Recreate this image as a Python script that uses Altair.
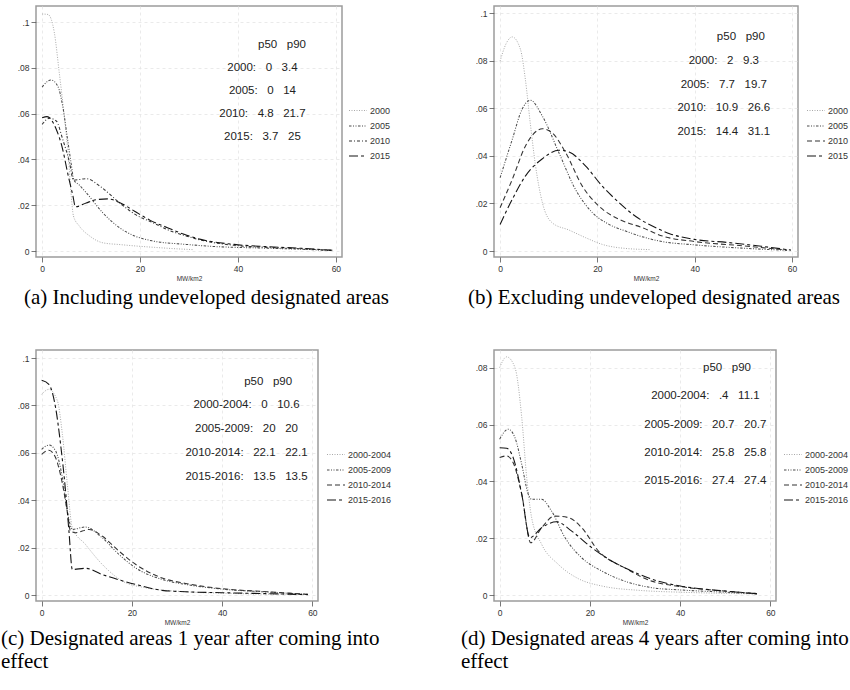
import altair as alt
import pandas as pd

NB = "\u00a0\u00a0\u00a0"

# ---------------- Panel (a) ----------------
A_SERIES = ["2000", "2005", "2010", "2015"]
A_2000_X = [0, 1.2, 2.5, 3.5, 4.6, 5.4, 5.9, 6.4, 7.6, 9.7, 12.4, 16, 19.2, 23, 27.3, 31]
A_2000_Y = [0.1035, 0.1033, 0.0953, 0.0779, 0.0575, 0.040, 0.0255, 0.0153, 0.0109, 0.0066, 0.0036, 0.0028, 0.0022, 0.0016, 0.0010, 0.0006]
A_2005_X = [0, 1.8, 3.2, 4.2, 5.2, 5.9, 6.5, 7.5, 9.0, 12.4, 15.8, 19, 22.6, 29.4, 35, 45, 55, 59]
A_2005_Y = [0.0716, 0.0747, 0.0720, 0.0633, 0.0488, 0.0386, 0.0310, 0.0290, 0.0255, 0.0167, 0.0102, 0.0065, 0.0044, 0.0029, 0.0020, 0.0013, 0.0006, 0.0002]
A_2010_X = [0, 1.5, 2.9, 4.2, 5.6, 6.4, 7.5, 9.0, 12, 15.8, 19, 22.6, 26, 29.4, 32.4, 39.2, 46, 52.8, 59]
A_2010_Y = [0.0553, 0.0580, 0.0568, 0.0488, 0.0386, 0.0310, 0.0312, 0.0316, 0.0280, 0.0211, 0.0160, 0.0124, 0.0090, 0.0066, 0.0048, 0.0025, 0.0016, 0.0010, 0.0003]
A_2015_X = [0, 1.0, 2.9, 4.2, 5.2, 6.3, 6.8, 9, 11, 13.4, 16, 18.8, 22, 25.6, 29, 32.4, 39.2, 46, 52.8, 59.5]
A_2015_Y = [0.0582, 0.0587, 0.0531, 0.0444, 0.0342, 0.0240, 0.0193, 0.0210, 0.0224, 0.0228, 0.0210, 0.0175, 0.0135, 0.0102, 0.0073, 0.0051, 0.0029, 0.0019, 0.0012, 0.0003]
A_TEXT = ["p50" + NB + "p90", "2000:" + NB + "0" + NB + "3.4", "2005:" + NB + "0" + NB + "14",
          "2010:" + NB + "4.8" + NB + "21.7", "2015:" + NB + "3.7" + NB + "25"]
A_TEXT_X = [49.0, 45.0, 45.0, 45.0, 45.0]
A_TEXT_Y = [0.09, 0.08, 0.07, 0.06, 0.05]

# ---------------- Panel (b) ----------------
B_SERIES = ["2000", "2005", "2010", "2015"]
B_2000_X = [0, 1.2, 2.5, 4.2, 5.2, 6.2, 7.3, 8.7, 10.7, 14.2, 17.6, 21, 25.8, 31]
B_2000_Y = [0.0798, 0.0870, 0.0900, 0.0847, 0.0721, 0.0539, 0.0357, 0.0203, 0.0119, 0.0088, 0.0056, 0.0028, 0.0011, 0.0006]
B_2005_X = [0, 2.5, 4.5, 6.2, 8.7, 12.1, 15.5, 19, 22.4, 25.8, 32.7, 40, 50, 59]
B_2005_Y = [0.0308, 0.0469, 0.0595, 0.0634, 0.0567, 0.0413, 0.0259, 0.0161, 0.0112, 0.0084, 0.0042, 0.0026, 0.0012, 0.0003]
B_2010_X = [0, 2.5, 5.2, 8.7, 10.7, 13.5, 16.9, 20.3, 24.5, 29.3, 33.4, 40, 50, 59]
B_2010_Y = [0.0182, 0.0301, 0.0441, 0.0514, 0.0497, 0.0413, 0.0273, 0.0189, 0.0133, 0.0098, 0.0063, 0.0040, 0.0022, 0.0004]
B_2015_X = [0, 2.5, 5.2, 8.7, 12.1, 14.2, 17.6, 21, 24.5, 27.9, 31.3, 35, 40, 46.8, 53.7, 59.8]
B_2015_Y = [0.0112, 0.0217, 0.0315, 0.0388, 0.0424, 0.0416, 0.0357, 0.0273, 0.0203, 0.0145, 0.0105, 0.0072, 0.0049, 0.0036, 0.0020, 0.0004]
B_TEXT = ["p50" + NB + "p90", "2000:" + NB + "2" + NB + "9.3", "2005:" + NB + "7.7" + NB + "19.7",
          "2010:" + NB + "10.9" + NB + "26.6", "2015:" + NB + "14.4" + NB + "31.1"]
B_TEXT_X = [49.5, 46.0, 46.0, 46.0, 46.0]
B_TEXT_Y = [0.09, 0.08, 0.07, 0.06, 0.05]

# ---------------- Panel (c) ----------------
C_SERIES = ["2000-2004", "2005-2009", "2010-2014", "2015-2016"]
C_2000_X = [0, 1.6, 3.5, 4.6, 5.7, 6.8, 9.7, 13.4, 17.9, 23, 31.9, 40, 50, 59]
C_2000_Y = [0.0847, 0.0868, 0.0819, 0.0678, 0.0467, 0.0284, 0.0214, 0.0130, 0.0059, 0.0031, 0.0014, 0.0008, 0.0004, 0.0002]
C_2005_X = [0, 1.6, 3.1, 4.6, 5.7, 6.8, 9.7, 13.4, 17.1, 20.8, 26.7, 31.9, 40, 50, 59]
C_2005_Y = [0.0615, 0.0633, 0.0608, 0.0495, 0.0354, 0.0277, 0.0287, 0.0242, 0.0172, 0.0115, 0.0066, 0.0045, 0.0025, 0.0013, 0.0003]
C_2010_X = [0, 1.6, 3.1, 4.6, 5.7, 6.4, 7.5, 10.5, 13.4, 17.1, 20.8, 26.7, 31.9, 40, 50, 59]
C_2010_Y = [0.0594, 0.0611, 0.0579, 0.0470, 0.0350, 0.0270, 0.0263, 0.0277, 0.0249, 0.0186, 0.0130, 0.0072, 0.0049, 0.0027, 0.0014, 0.0003]
C_2015_X = [0, 1.6, 3.1, 4.2, 5.3, 6.05, 6.8, 9.7, 13.4, 20.8, 26.7, 31.9, 40, 50, 59]
C_2015_Y = [0.0906, 0.0889, 0.0790, 0.0636, 0.0439, 0.0270, 0.0108, 0.0113, 0.0087, 0.0045, 0.0020, 0.0014, 0.0010, 0.0006, 0.0002]
C_TEXT = ["p50" + NB + "p90", "2000-2004:" + NB + "0" + NB + "10.6", "2005-2009:" + NB + "20" + NB + "20",
          "2010-2014:" + NB + "22.1" + NB + "22.1", "2015-2016:" + NB + "13.5" + NB + "13.5"]
C_TEXT_X = [50.2, 45.4, 45.4, 45.4, 45.4]
C_TEXT_Y = [0.09, 0.08, 0.07, 0.06, 0.05]

# ---------------- Panel (d) ----------------
D_SERIES = ["2000-2004", "2005-2009", "2010-2014", "2015-2016"]
D_2000_X = [0, 1.55, 3.4, 4.9, 6.0, 7.1, 9.3, 13, 17.4, 22.6, 31.4, 40, 50, 57]
D_2000_Y = [0.0801, 0.0839, 0.0801, 0.0625, 0.0413, 0.0272, 0.0179, 0.0108, 0.0058, 0.0032, 0.0016, 0.0010, 0.0006, 0.0004]
D_2005_X = [0, 1.9, 3.4, 4.9, 6.35, 7.1, 9.3, 11.5, 14.5, 18.2, 22.6, 27.7, 33.7, 40, 50, 57]
D_2005_Y = [0.0549, 0.0584, 0.0554, 0.0460, 0.0355, 0.0337, 0.0337, 0.0296, 0.0202, 0.0131, 0.0085, 0.0049, 0.0026, 0.0018, 0.0010, 0.0004]
D_2010_X = [0, 1.55, 3.0, 4.9, 6.9, 9.3, 12.2, 15.2, 18.2, 21.9, 27.7, 33.7, 40, 50, 57]
D_2010_Y = [0.0484, 0.0490, 0.0466, 0.0355, 0.0184, 0.0237, 0.0278, 0.0273, 0.0237, 0.0155, 0.0096, 0.0049, 0.0030, 0.0014, 0.0005]
D_2015_X = [0, 1.55, 3.0, 4.9, 6.7, 9.3, 12.6, 15.9, 20.4, 24.8, 29.2, 35.1, 40, 50, 57]
D_2015_Y = [0.0519, 0.0517, 0.0484, 0.0355, 0.0202, 0.0237, 0.0258, 0.0226, 0.0167, 0.0120, 0.0085, 0.0049, 0.0032, 0.0014, 0.0005]
D_TEXT = ["p50" + NB + "p90", "2000-2004:" + NB + ".4" + NB + "11.1", "2005-2009:" + NB + "20.7" + NB + "20.7",
          "2010-2014:" + NB + "25.8" + NB + "25.8", "2015-2016:" + NB + "27.4" + NB + "27.4"]
D_TEXT_X = [50.4, 45.6, 45.6, 45.6, 45.6]
D_TEXT_Y = [0.08, 0.07, 0.06, 0.05, 0.04]

CAPTIONS = ["(a) Including undeveloped designated areas",
            "(b) Excluding undeveloped designated areas",
            ["(c) Designated areas 1 year after coming into", "effect"],
            ["(d) Designated areas 4 years after coming into", "effect"]]

LINE_COLORS = ["#a9a9a9", "#4a4a4a", "#333333", "#141414"]
LINE_WIDTHS = [1.0, 1.1, 1.1, 1.6]
DASHES_A = [[1, 1.5], [2.5, 1.5, 1, 1.5, 1, 1.5], [3, 2, 1, 2], [9, 3, 3, 3]]
DASHES_BCD = [[1, 1.5], [2.5, 1.5, 1, 1.5, 1, 1.5], [5, 3], [9, 3, 3, 3]]

Y_LABEL_EXPR = "datum.value == 0 ? '0' : replace(format(datum.value, '.2~f'), '0.', '.')"


def panel(series, xs, ys, dashes, ydom, yticks, width, height,
          tx, ty, tt, caption, legend_x, cap_dx, cap_offset):
    rows = []
    for s, xv, yv in zip(series, xs, ys):
        for i, (a, b) in enumerate(zip(xv, yv)):
            rows.append({"series": s, "x": a, "y": b, "i": i})
    df = pd.DataFrame(rows)
    ann = pd.DataFrame({"x": tx, "y": ty, "t": tt})

    xsc = alt.Scale(domain=[-1.25, 61.25], nice=False, zero=False)
    ysc = alt.Scale(domain=ydom, nice=False, zero=False)
    xax = alt.Axis(values=[0, 20, 40, 60], title="MW/km2", format="d")
    yax = alt.Axis(values=yticks, title=None, labelExpr=Y_LABEL_EXPR)

    leg = alt.Legend(title=None, orient="none", legendX=legend_x, legendY=95,
                     symbolType="stroke", symbolSize=324, rowPadding=-5,
                     labelFont="Liberation Sans", labelFontSize=9,
                     labelColor="#333333", labelOffset=2)

    lines = alt.Chart(df).mark_line(interpolate="monotone").encode(
        x=alt.X("x:Q", scale=xsc, axis=xax),
        y=alt.Y("y:Q", scale=ysc, axis=yax),
        order="i:Q",
        color=alt.Color("series:N", scale=alt.Scale(domain=series, range=LINE_COLORS), legend=leg),
        strokeDash=alt.StrokeDash("series:N", scale=alt.Scale(domain=series, range=dashes), legend=leg),
        strokeWidth=alt.StrokeWidth("series:N", scale=alt.Scale(domain=series, range=LINE_WIDTHS), legend=leg),
    )
    texts = alt.Chart(ann).mark_text(font="Liberation Sans", fontSize=11.5, color="#222222",
                                     align="center", baseline="middle").encode(
        x=alt.X("x:Q", scale=xsc), y=alt.Y("y:Q", scale=ysc), text="t:N")

    return alt.layer(lines, texts).properties(
        width=width, height=height,
        title=alt.TitleParams(text=caption, orient="bottom", anchor="start", frame="group",
                              dx=cap_dx, offset=cap_offset, font="Liberation Serif", fontSize=21,
                              fontWeight="normal", color="#000000", lineHeight=23),
    )


pa = panel(A_SERIES, [A_2000_X, A_2005_X, A_2010_X, A_2015_X], [A_2000_Y, A_2005_Y, A_2010_Y, A_2015_Y],
           DASHES_A, [-0.0026, 0.107], [0, 0.02, 0.04, 0.06, 0.08, 0.1], 306, 251,
           A_TEXT_X, A_TEXT_Y, A_TEXT, CAPTIONS[0], 312, -12, 5)
pb = panel(B_SERIES, [B_2000_X, B_2005_X, B_2010_X, B_2015_X], [B_2000_Y, B_2005_Y, B_2010_Y, B_2015_Y],
           DASHES_BCD, [-0.0025, 0.103], [0, 0.02, 0.04, 0.06, 0.08, 0.1], 304, 251,
           B_TEXT_X, B_TEXT_Y, B_TEXT, CAPTIONS[1], 312, -26, 5)
pc = panel(C_SERIES, [C_2000_X, C_2005_X, C_2010_X, C_2015_X], [C_2000_Y, C_2005_Y, C_2010_Y, C_2015_Y],
           DASHES_BCD, [-0.0025, 0.1034], [0, 0.02, 0.04, 0.06, 0.08, 0.1], 282, 251,
           C_TEXT_X, C_TEXT_Y, C_TEXT, CAPTIONS[2], 290, -35, 2)
pd_ = panel(D_SERIES, [D_2000_X, D_2005_X, D_2010_X, D_2015_X], [D_2000_Y, D_2005_Y, D_2010_Y, D_2015_Y],
            DASHES_BCD, [-0.0021, 0.0863], [0, 0.02, 0.04, 0.06, 0.08], 282, 251,
            D_TEXT_X, D_TEXT_Y, D_TEXT, CAPTIONS[3], 289, -33, 2)

chart = alt.concat(pa, pb, pc, pd_, columns=2, spacing={"row": 93, "column": 152},
                   bounds="flush", align="all").resolve_scale(
    x="independent", y="independent", color="independent",
    strokeDash="independent", strokeWidth="independent"
).properties(
    padding={"left": 0, "top": 5, "right": 0, "bottom": 0},
    background="white",
).configure_view(
    stroke="#9c9c9c", strokeWidth=1.5
).configure_axis(
    domain=False, grid=True, gridColor="#e4e4e4", gridDash=[3, 3], gridWidth=0.8,
    tickColor="#555555", tickSize=5, tickWidth=0.8,
    labelFont="Liberation Sans", labelFontSize=8.5, labelColor="#333333", labelPadding=2,
    titleFont="Liberation Sans", titleFontSize=6.5, titleFontWeight="normal",
    titleColor="#333333", titlePadding=3,
)

chart.save("out.html", embed_options={"renderer": "svg", "actions": False})
